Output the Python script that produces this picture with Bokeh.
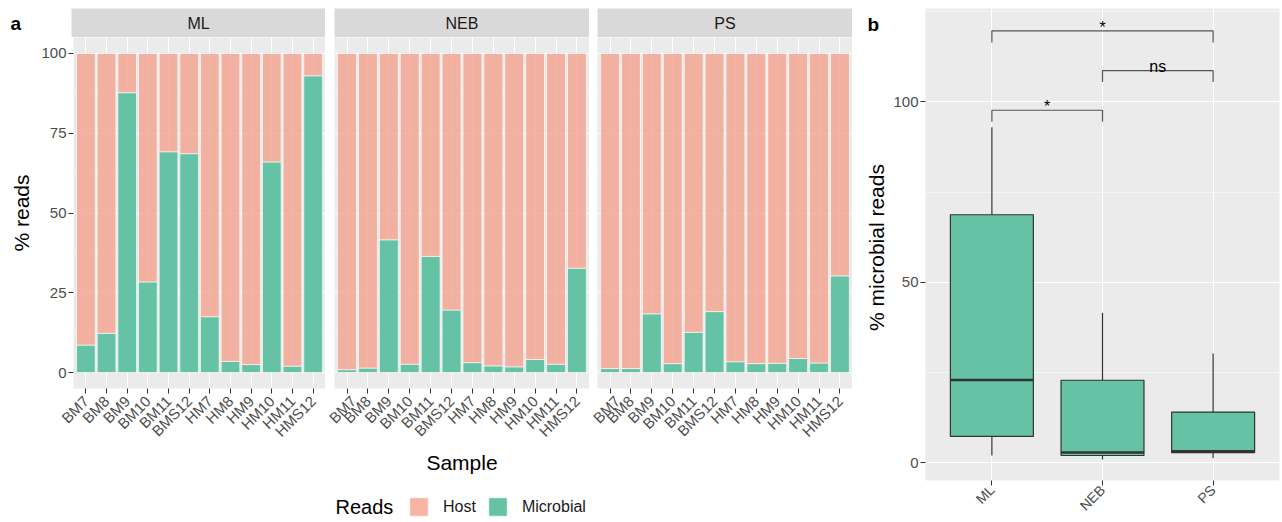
import math
import numpy as np
from bokeh.plotting import figure
from bokeh.models import (ColumnDataSource, Range1d, FixedTicker, SingleIntervalTicker,
                          Label, Legend, LegendItem, Spacer)
from bokeh.layouts import row, column
from bokeh.embed import file_html
from bokeh.resources import INLINE

# ---------------- data ----------------
samples = ["BM7", "BM8", "BM9", "BM10", "BM11", "BMS12",
           "HM7", "HM8", "HM9", "HM10", "HM11", "HMS12"]
methods = ["ML", "NEB", "PS"]
microbial_ML = [8.6, 12.3, 87.7, 28.4, 69.2, 68.6, 17.5, 3.5, 2.5, 66.0, 2.0, 93.0]
microbial_NEB = [0.9, 1.4, 41.6, 2.6, 36.4, 19.6, 3.1, 2.1, 1.8, 4.1, 2.6, 32.7]
microbial_PS = [1.25, 1.25, 18.4, 2.8, 12.6, 19.1, 3.4, 2.8, 2.9, 4.4, 3.0, 30.3]
read_types = ["Host", "Microbial"]
total_pct = 100
bracket_from = ["ML", "NEB", "ML"]
bracket_to = ["NEB", "PS", "PS"]
bracket_y = [97.7, 108.7, 119.7]
bracket_labels = ["*", "ns", "*"]

# ---------------- style ----------------
FONT = "Liberation Sans"
HOST = "#F2A18D"
MIC = "#66C2A5"
PANEL_BG = "#EBEBEB"
STRIP_BG = "#D9D9D9"


def style_axes(p):
    for ax in p.axis:
        ax.axis_line_color = None
        ax.major_tick_line_color = "#333333"
        ax.major_tick_line_width = 1
        ax.major_tick_out = 5
        ax.major_tick_in = 0
        ax.minor_tick_line_color = None
        ax.major_label_text_color = "#4D4D4D"
        ax.major_label_text_font = FONT
        ax.major_label_standoff = 2
        ax.axis_label_text_font = FONT
        ax.axis_label_text_font_style = "normal"
        ax.axis_label_text_color = "black"
        ax.axis_label_text_font_size = "21px"
        ax.axis_label_standoff = 2


def style_grid(p):
    p.grid.grid_line_color = "white"
    p.grid.grid_line_width = 1.1
    p.ygrid.minor_grid_line_color = "white"
    p.ygrid.minor_grid_line_width = 0.5


def blank(width, height):
    f = figure(width=width, height=height, x_range=Range1d(0, 1), y_range=Range1d(0, 1),
               output_backend="svg", toolbar_location=None,
               x_axis_location=None, y_axis_location=None,
               min_border_left=0, min_border_right=0, min_border_top=0, min_border_bottom=0,
               outline_line_color=None, background_fill_color="white")
    f.grid.visible = False
    return f


TOTAL_H = 522
STRIP_H = 37
STRIP_TOP = 8
FACET_H = 443
FACET_BOTTOM = 92
UPPER_H = STRIP_H + FACET_H
LEG_H = TOTAL_H - UPPER_H
SIDE_W = 38
widths = [287, 264, 263]
lefts = [33, 9, 8]
values_by_method = [microbial_ML, microbial_NEB, microbial_PS]

strips = []
facets = []
xs = list(range(1, len(samples) + 1))
for i, (m, vals) in enumerate(zip(methods, values_by_method)):
    s = figure(width=widths[i], height=STRIP_H, x_range=Range1d(0, 1), y_range=Range1d(0, 1),
               output_backend="svg", toolbar_location=None,
               x_axis_location=None, y_axis_location=None,
               min_border_left=lefts[i], min_border_right=0, min_border_top=STRIP_TOP,
               min_border_bottom=0,
               background_fill_color=STRIP_BG, outline_line_color=None)
    s.grid.visible = False
    s.add_layout(Label(x=0.5, y=0.5, text=m, text_align="center", text_baseline="middle",
                       text_font=FONT, text_font_size="16px", text_color="#1A1A1A"))
    strips.append(s)

    p = figure(width=widths[i], height=FACET_H, x_range=Range1d(0.4, 12.6), y_range=Range1d(-5, 105),
               output_backend="svg", toolbar_location=None,
               y_axis_location="left" if i == 0 else None,
               min_border_left=lefts[i], min_border_right=0, min_border_top=0,
               min_border_bottom=FACET_BOTTOM,
               background_fill_color=PANEL_BG, outline_line_color=None)
    host = [total_pct - v for v in vals]
    src = ColumnDataSource(dict(x=xs, Microbial=vals, Host=host))
    p.vbar_stack(["Microbial", "Host"], x="x", width=0.9, source=src,
                 fill_color=[MIC, HOST], fill_alpha=[1.0, 0.8],
                 line_color="white", line_alpha=0.6, line_width=1)
    p.xaxis.ticker = FixedTicker(ticks=xs)
    p.xaxis.major_label_overrides = {x: n for x, n in zip(xs, samples)}
    p.xaxis.major_label_orientation = math.pi / 4
    yt = SingleIntervalTicker(interval=25, num_minor_ticks=2)
    if i == 0:
        p.yaxis.ticker = yt
        p.yaxis.major_label_text_font_size = "15px"
    p.ygrid.ticker = yt
    if i == 1:
        p.xaxis.axis_label = "Sample"
    style_axes(p)
    p.xaxis.major_label_text_font_size = "15px"
    p.xaxis.major_label_standoff = 5
    style_grid(p)
    facets.append(p)

# side strip for panel a: panel tag and y-axis title
side_a = blank(SIDE_W, UPPER_H)
side_a.add_layout(Label(x=10, y=UPPER_H - 23, x_units="screen", y_units="screen",
                        text="a", text_font=FONT, text_font_size="19px", text_font_style="bold",
                        text_color="black", text_baseline="alphabetic"))
side_a.add_layout(Label(x=21, y=UPPER_H - 212.5, x_units="screen", y_units="screen",
                        text="% reads", angle=math.pi / 2, text_align="center",
                        text_baseline="middle", text_font=FONT, text_font_size="21px",
                        text_color="black"))

# legend figure
lf = blank(SIDE_W + sum(widths), LEG_H)
key_src = ColumnDataSource(dict(x=xs, Microbial=microbial_ML))
rh = lf.vbar(x="x", top="Microbial", width=0.9, source=key_src, visible=False,
             fill_color=HOST, fill_alpha=0.8, line_color="white", line_alpha=0.6)
rm = lf.vbar(x="x", top="Microbial", width=0.9, source=key_src, visible=False,
             fill_color=MIC, line_color="white", line_alpha=0.6)
leg = Legend(items=[LegendItem(label=read_types[0], renderers=[rh]),
                    LegendItem(label=read_types[1], renderers=[rm])],
             location=(407, 4), orientation="horizontal", click_policy="none",
             glyph_width=23, glyph_height=23, label_standoff=13, spacing=10,
             padding=0, margin=0, border_line_color=None, background_fill_alpha=0,
             label_text_font=FONT, label_text_font_size="16px", label_text_color="#1A1A1A",
             label_height=23)
lf.add_layout(leg)
lf.add_layout(Label(x=335, y=16, x_units="screen", y_units="screen", text="Reads",
                    text_font=FONT, text_font_size="20px", text_color="black",
                    text_baseline="middle"))

# ---------------- panel b ----------------
side_b = blank(SIDE_W, UPPER_H)
side_b.add_layout(Label(x=15, y=UPPER_H - 24, x_units="screen", y_units="screen",
                        text="b", text_font=FONT, text_font_size="19px", text_font_style="bold",
                        text_color="black", text_baseline="alphabetic"))
side_b.add_layout(Label(x=24, y=UPPER_H - 247, x_units="screen", y_units="screen",
                        text="% microbial reads", angle=math.pi / 2, text_align="center",
                        text_baseline="middle", text_font=FONT, text_font_size="21px",
                        text_color="black"))
side_b_col = column(side_b, Spacer(width=SIDE_W, height=LEG_H))

pb = figure(width=1282 - 852 - SIDE_W, height=TOTAL_H, x_range=Range1d(0.4, 3.6),
            y_range=Range1d(-4.9, 125.9),
            output_backend="svg", toolbar_location=None,
            min_border_left=33, min_border_right=3, min_border_top=8, min_border_bottom=35,
            background_fill_color=PANEL_BG, outline_line_color=None)
bx = [1, 2, 3]
q1, med, q3, lo, hi = [], [], [], [], []
for vals in values_by_method:
    a = np.array(vals)
    a1, a2, a3 = np.percentile(a, [25, 50, 75])
    iqr = a3 - a1
    q1.append(a1); med.append(a2); q3.append(a3)
    hi.append(a[a <= a3 + 1.5 * iqr].max())
    lo.append(a[a >= a1 - 1.5 * iqr].min())
bsrc = ColumnDataSource(dict(x=bx, q1=q1, med=med, q3=q3, lo=lo, hi=hi,
                             xl=[x - 0.375 for x in bx], xr=[x + 0.375 for x in bx]))
pb.segment(x0="x", y0="q3", x1="x", y1="hi", source=bsrc, line_color="#333333", line_width=1.2)
pb.segment(x0="x", y0="q1", x1="x", y1="lo", source=bsrc, line_color="#333333", line_width=1.2)
pb.vbar(x="x", bottom="q1", top="q3", width=0.75, source=bsrc, fill_color=MIC,
        line_color="#333333", line_width=1.2)
pb.segment(x0="xl", y0="med", x1="xr", y1="med", source=bsrc, line_color="#333333", line_width=2.6)

tip = 3.2
bxs, bys, tx, ty = [], [], [], []
for f, t, y in zip(bracket_from, bracket_to, bracket_y):
    x1 = bx[methods.index(f)]
    x2 = bx[methods.index(t)]
    bxs.append([x1, x1, x2, x2])
    bys.append([y - tip, y, y, y - tip])
    tx.append((x1 + x2) / 2)
    ty.append(y + 1.0)
pb.multi_line(xs=bxs, ys=bys, line_color="#555555", line_width=1.2)
pb.text(x=tx, y=ty, text=bracket_labels, text_align="center", text_baseline="alphabetic",
        text_font_size="16px", text_color="black", text_font={"value": FONT})

pb.xaxis.ticker = FixedTicker(ticks=bx)
pb.xaxis.major_label_overrides = {x: n for x, n in zip(bx, methods)}
pb.xaxis.major_label_orientation = math.pi / 4
ytb = SingleIntervalTicker(interval=50, num_minor_ticks=2)
pb.yaxis.ticker = ytb
pb.yaxis.major_label_text_font_size = "15px"
style_axes(pb)
pb.xaxis.major_label_text_font_size = "14px"
style_grid(pb)

left_top = row(side_a, column(row(*strips), row(*facets)))
left = column(left_top, lf)
layout = row(left, side_b_col, pb)
open("out.html", "w").write(file_html(layout, INLINE))
